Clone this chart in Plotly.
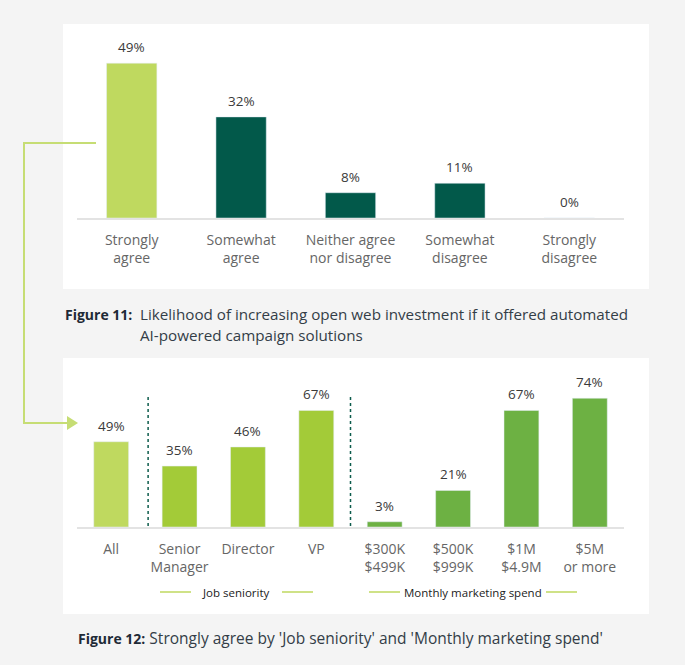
import plotly.graph_objects as go

W, H = 685, 665

# ---- data ----
top_categories = ["Strongly<br>agree", "Somewhat<br>agree", "Neither agree<br>nor disagree",
                  "Somewhat<br>disagree", "Strongly<br>disagree"]
top_values = [49, 32, 8, 11, 0]
top_colors = ["#bfd95f", "#02594a", "#02594a", "#02594a", "#02594a"]

bottom_categories = ["All", "Senior<br>Manager", "Director", "VP",
                     "$300K<br>$499K", "$500K<br>$999K", "$1M<br>$4.9M", "$5M<br>or more"]
bottom_values = [49, 35, 46, 67, 3, 21, 67, 74]
bottom_colors = ["#bfd95f", "#a3cb38", "#a3cb38", "#a3cb38",
                 "#6db143", "#6db143", "#6db143", "#6db143"]

group_labels = ["Job seniority", "Monthly marketing spend"]

caption11_label = "Figure 11:"
caption11_lines = ["Likelihood of increasing open web investment if it offered automated",
                   "AI-powered campaign solutions"]
caption12_label = "Figure 12:"
caption12_text = "Strongly agree by 'Job seniority' and 'Monthly marketing spend'"

FONT = "Open Sans"


def X(px):
    return px / W


def Y(py):
    return 1 - py / H


fig = go.Figure()

fig.add_trace(go.Bar(x=top_categories, y=top_values, marker_color=top_colors,
                     width=0.46, xaxis="x", yaxis="y", hoverinfo="skip"))
fig.add_trace(go.Bar(x=bottom_categories, y=bottom_values, marker_color=bottom_colors,
                     width=0.51, xaxis="x2", yaxis="y2", hoverinfo="skip"))

annotations = []
for c, v in zip(top_categories, top_values):
    annotations.append(dict(x=c, y=v, xref="x", yref="y", text=f"{v}%", showarrow=False,
                            yanchor="bottom", yshift=5,
                            font=dict(family=FONT, size=13.5, color="#3a3a3a")))
for c, v in zip(bottom_categories, bottom_values):
    annotations.append(dict(x=c, y=v, xref="x2", yref="y2", text=f"{v}%", showarrow=False,
                            yanchor="bottom", yshift=5,
                            font=dict(family=FONT, size=13.5, color="#3a3a3a")))

# group labels
annotations.append(dict(x=X(236), y=Y(592), xref="paper", yref="paper", text=group_labels[0],
                        showarrow=False, xanchor="center", yanchor="middle",
                        font=dict(family=FONT, size=11.5, color="#222222")))
annotations.append(dict(x=X(473), y=Y(592), xref="paper", yref="paper", text=group_labels[1],
                        showarrow=False, xanchor="center", yanchor="middle",
                        font=dict(family=FONT, size=11.5, color="#222222")))

# captions
annotations.append(dict(x=X(63), y=Y(315), xref="paper", yref="paper", text=f"<b>{caption11_label}</b>",
                        showarrow=False, xanchor="left", yanchor="middle",
                        font=dict(family=FONT, size=14, color="#1e2a36")))
for i, line in enumerate(caption11_lines):
    annotations.append(dict(x=X(138), y=Y(314 + 20.5 * i), xref="paper", yref="paper", text=line,
                            showarrow=False, xanchor="left", yanchor="middle", align="left",
                            font=dict(family=FONT, size=15.2, color="#333d47")))
annotations.append(dict(x=X(76), y=Y(638), xref="paper", yref="paper",
                        text=f"<span style='font-size:14px;color:#1e2a36'><b>{caption12_label}</b></span> {caption12_text}",
                        showarrow=False, xanchor="left", yanchor="middle",
                        font=dict(family=FONT, size=15.5, color="#333d47")))

shapes = []
# white panels
shapes.append(dict(type="rect", xref="paper", yref="paper", x0=X(63), x1=X(649), y0=Y(289), y1=Y(24),
                   fillcolor="white", line=dict(width=0), layer="below"))
shapes.append(dict(type="rect", xref="paper", yref="paper", x0=X(63), x1=X(649), y0=Y(614), y1=Y(358),
                   fillcolor="white", line=dict(width=0), layer="below"))
# connector
conn = "#c6dd74"
shapes.append(dict(type="path", xref="paper", yref="paper",
                   path=f"M {X(96)},{Y(143)} L {X(24)},{Y(143)} L {X(24)},{Y(423)} L {X(68)},{Y(423)}",
                   line=dict(color=conn, width=2), layer="above"))
shapes.append(dict(type="path", xref="paper", yref="paper",
                   path=f"M {X(67)},{Y(416)} L {X(78)},{Y(423)} L {X(67)},{Y(430)} Z",
                   fillcolor=conn, line=dict(color=conn, width=0), layer="above"))
# dotted separators
for xc in [0.54, 3.5]:
    shapes.append(dict(type="line", xref="x2", yref="paper", x0=xc, x1=xc, y0=Y(526), y1=Y(397),
                       line=dict(color="#0d5c4c", width=1.5, dash="dot")))
# group label lines
for a, b in [(160, 191), (282, 313), (369, 400), (546, 577)]:
    shapes.append(dict(type="line", xref="paper", yref="paper", x0=X(a), x1=X(b), y0=Y(592), y1=Y(592),
                       line=dict(color="#bfd95f", width=1.5)))

axis_common = dict(showgrid=False, zeroline=False, showline=True, linecolor="#e3e3e3", linewidth=2,
                   ticks="outside", ticklen=8, tickcolor="rgba(0,0,0,0)",
                   tickfont=dict(family=FONT, size=14, color="#666666"), fixedrange=True)

fig.update_layout(
    width=W, height=H,
    margin=dict(l=0, r=0, t=0, b=0),
    paper_bgcolor="#f4f4f4", plot_bgcolor="rgba(0,0,0,0)",
    showlegend=False,
    xaxis=dict(domain=[X(77), X(624)], anchor="y", **axis_common),
    yaxis=dict(domain=[Y(218), Y(40)], range=[0, 178 / 3.16], visible=False, anchor="x"),
    xaxis2=dict(domain=[X(77), X(624)], anchor="y2", **axis_common),
    yaxis2=dict(domain=[Y(527), Y(380)], range=[0, 147 / 1.74], visible=False, anchor="x2"),
    annotations=annotations,
    shapes=shapes,
    bargap=0.5,
)

fig.write_html("out.html")
